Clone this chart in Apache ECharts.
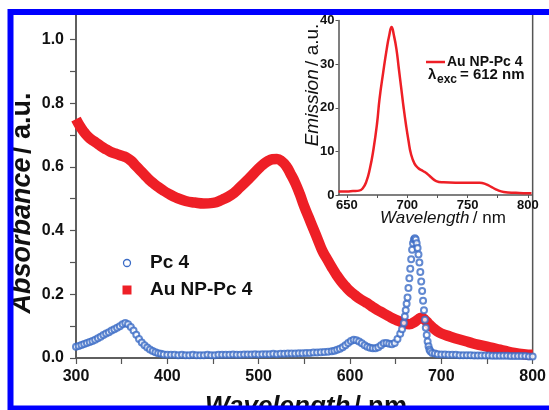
<!DOCTYPE html>
<html>
<head>
<meta charset="utf-8">
<script src="https://cdn.jsdelivr.net/npm/echarts@6/dist/echarts.min.js"></script>
<style>
html,body{margin:0;padding:0;background:#fff;}
#chart{width:549px;height:410px;}
</style>
</head>
<body>
<div id="chart"></div>
<script>
// ---- Data ----
const pc4Wavelength = [
  300,303,306,309,312,315,318,321,324,327,330,333,336,339,342,345,348,351,354,357,360,363,366,369,372,375,378,381,384,387,390,393,396,400,
  404,408,412,416,420,424,428,432,436,440,444,448,452,456,460,464,468,472,476,480,484,488,492,496,500,504,508,512,516,520,524,528,532,536,540,544,548,552,556,560,564,568,572,576,580,
  583,586,589,592,595,598,601,604,607,610,613,616,619,622,625,628,631,634,637,640,643,646,649,652,655,657,659,
  660,661,662,663,664,665,666,667,668,669,670,671,672,673,674,675,676,677,678,679,680,681,682,683,684,685,686,687,688,
  690,693,696,700,704,708,712,716,720,724,728,732,736,740,744,748,752,756,760,764,768,772,776,780,784,788,792,796,800
];
const pc4Absorbance = [
  0.035,0.038,0.041,0.044,0.047,0.05,0.053,0.057,0.062,0.067,0.072,0.077,0.081,0.086,0.09,0.095,0.1,0.106,0.11,0.106,0.097,0.086,0.073,0.06,0.049,0.04,0.033,0.027,0.022,0.018,0.015,0.013,0.011,0.01,
  0.01,0.01,0.009,0.01,0.009,0.009,0.01,0.009,0.009,0.009,0.01,0.009,0.009,0.01,0.01,0.01,0.01,0.011,0.01,0.01,0.011,0.011,0.011,0.012,0.011,0.012,0.012,0.012,0.013,0.012,0.013,0.013,0.014,0.014,0.014,0.015,0.015,0.016,0.016,0.017,0.017,0.018,0.019,0.02,0.021,
  0.023,0.026,0.029,0.034,0.04,0.047,0.053,0.057,0.056,0.052,0.046,0.04,0.035,0.032,0.031,0.031,0.034,0.04,0.046,0.047,0.045,0.043,0.047,0.06,0.076,0.09,0.11,
  0.13,0.15,0.17,0.19,0.22,0.25,0.28,0.31,0.34,0.36,0.372,0.376,0.372,0.36,0.345,0.325,0.3,0.27,0.24,0.21,0.18,0.15,0.12,0.095,0.072,0.052,0.037,0.027,0.021,
  0.016,0.014,0.012,0.011,0.011,0.01,0.01,0.01,0.009,0.009,0.009,0.009,0.008,0.008,0.008,0.008,0.008,0.007,0.007,0.007,0.007,0.007,0.006,0.006,0.006,0.006,0.006,0.005,0.005
];

const auWavelength = [300,305,310,315,320,325,330,335,340,345,350,355,360,365,370,375,380,385,390,395,400,410,420,430,440,450,460,470,480,490,500,505,510,515,520,525,530,535,540,545,550,555,560,565,570,575,580,585,590,595,600,605,610,617,620,625,630,635,640,645,650,655,660,665,670,675,678,682,686,690,695,700,710,720,730,740,750,760,770,780,790,800];
const auAbsorbance = [0.75,0.725,0.705,0.69,0.68,0.67,0.66,0.652,0.645,0.64,0.635,0.63,0.62,0.605,0.59,0.575,0.56,0.548,0.537,0.527,0.518,0.503,0.493,0.488,0.485,0.487,0.497,0.512,0.537,0.565,0.595,0.608,0.618,0.624,0.625,0.618,0.603,0.578,0.55,0.515,0.475,0.44,0.405,0.37,0.335,0.31,0.285,0.262,0.242,0.225,0.21,0.198,0.187,0.175,0.17,0.16,0.151,0.143,0.135,0.127,0.12,0.114,0.108,0.106,0.112,0.122,0.126,0.12,0.108,0.097,0.085,0.077,0.067,0.058,0.05,0.042,0.036,0.029,0.022,0.016,0.012,0.01];

const emWavelength = [643,650,655,660,663,666,669,672,675,677,680,683,685,687,689,691,693,695,697,699,701,703,706,709,713,716,720,724,730,740,750,760,765,770,775,780,790,800,803];
const emIntensity = [0.8,0.8,0.9,1.0,1.5,3,6,10.5,16.5,22,28,33.5,36.5,38.5,36.5,33.5,29,24.5,20,16,12.5,9.5,7.2,6.2,5.5,5,4,3.2,2.9,2.8,2.8,2.8,2.5,1.8,1.1,0.7,0.5,0.4,0.4];

const absTickLabels = [0,0.2,0.4,0.6,0.8,1.0];
const absMinorTicks = [0,0.1,0.2,0.3,0.4,0.5,0.6,0.7,0.8,0.9,1.0];
const wlTickLabels = [300,400,500,600,700,800];
const wlMinorTicks = [300,350,400,450,500,550,600,650,700,750,800];
const emTickLabels = [0,10,20,30,40];
const emWlTickLabels = [650,700,750,800];
const emWlTicks = [650,675,700,725,750,775,800];

const pair = (xs, ys) => xs.map((x, i) => [x, ys[i]]);

const RED = '#ee1f26';
const BLUE = '#3b6cc6';
const AX = '#555555';
const FONT = 'Liberation Sans, Arial, sans-serif';

const chart = echarts.init(document.getElementById('chart'), null, {renderer: 'canvas'});

const option = {
  backgroundColor: '#ffffff',
  animation: false,
  grid: [
    {left: 76, right: 9, top: 14, bottom: 52, show: true, borderColor: AX, borderWidth: 1.5, backgroundColor: 'transparent'},
    {left: 338.5, right: 17.5, top: 20.5, bottom: 215}
  ],
  xAxis: [
    {
      gridIndex: 0, type: 'value', min: 300, max: 800,
      axisLine: {show: true, lineStyle: {color: AX, width: 1.5}},
      axisTick: {show: true, customValues: wlMinorTicks, length: 6, lineStyle: {color: AX, width: 1.2}},
      axisLabel: {customValues: wlTickLabels, margin: 11, color: '#111', fontSize: 16, fontWeight: 'bold', fontFamily: FONT},
      splitLine: {show: false}
    },
    {
      gridIndex: 1, type: 'value', min: 643, max: 803,
      axisLine: {show: true, lineStyle: {color: AX, width: 1.5}},
      axisTick: {show: true, customValues: emWlTicks, length: 3, lineStyle: {color: AX, width: 1}},
      axisLabel: {customValues: emWlTickLabels, margin: 4, color: '#111', fontSize: 13, fontWeight: 'bold', fontFamily: FONT},
      splitLine: {show: false}
    }
  ],
  yAxis: [
    {
      gridIndex: 0, type: 'value', min: 0, max: 1.08,
      axisLine: {show: true, lineStyle: {color: AX, width: 1.5}},
      axisTick: {show: true, customValues: absMinorTicks, length: 6, lineStyle: {color: AX, width: 1.2}},
      axisLabel: {customValues: absTickLabels, margin: 12, color: '#111', fontSize: 16, fontWeight: 'bold', fontFamily: FONT,
        formatter: v => Number(v).toFixed(1)},
      splitLine: {show: false}
    },
    {
      gridIndex: 1, type: 'value', min: 0, max: 40,
      axisLine: {show: true, lineStyle: {color: AX, width: 1.5}},
      axisTick: {show: true, customValues: emTickLabels, length: 3, lineStyle: {color: AX, width: 1}},
      axisLabel: {customValues: emTickLabels, margin: 4, color: '#111', fontSize: 13, fontWeight: 'bold', fontFamily: FONT},
      splitLine: {show: false}
    }
  ],
  series: [
    {
      name: 'Au NP-Pc 4', type: 'line', xAxisIndex: 0, yAxisIndex: 0,
      data: pair(auWavelength, auAbsorbance), smooth: true, symbol: 'none',
      lineStyle: {color: RED, width: 10.5}, z: 2
    },
    {
      name: 'Pc 4', type: 'scatter', xAxisIndex: 0, yAxisIndex: 0,
      data: pair(pc4Wavelength, pc4Absorbance), symbol: 'emptyCircle', symbolSize: 6,
      itemStyle: {color: BLUE, borderColor: BLUE, borderWidth: 1.2}, z: 3
    },
    {
      name: 'Emission', type: 'line', xAxisIndex: 1, yAxisIndex: 1,
      data: pair(emWavelength, emIntensity), smooth: true, symbol: 'none',
      lineStyle: {color: RED, width: 2.5}, z: 3
    }
  ],
  graphic: [
    // main legend
    {type: 'circle', shape: {cx: 127, cy: 263, r: 3.5}, style: {fill: 'none', stroke: BLUE, lineWidth: 1.3}},
    {type: 'text', x: 150, y: 263, style: {text: 'Pc 4', font: 'bold 19px ' + FONT, fill: '#111', textVerticalAlign: 'middle'}},
    {type: 'rect', shape: {x: 122.5, y: 285.5, width: 9, height: 9}, style: {fill: RED}},
    {type: 'text', x: 150, y: 290, style: {text: 'Au NP-Pc 4', font: 'bold 19px ' + FONT, fill: '#111', textVerticalAlign: 'middle'}},
    // inset legend
    {type: 'line', shape: {x1: 426, y1: 62, x2: 445, y2: 62}, style: {stroke: RED, lineWidth: 2.5}},
    {type: 'text', x: 447, y: 62, style: {text: 'Au NP-Pc 4', font: 'bold 14px ' + FONT, fill: '#111', textVerticalAlign: 'middle'}},
    {type: 'text', x: 428, y: 75, style: {text: 'λ', font: 'bold 15px ' + FONT, fill: '#111', textVerticalAlign: 'middle'}},
    {type: 'text', x: 437, y: 80, style: {text: 'exc', font: 'bold 12px ' + FONT, fill: '#111', textVerticalAlign: 'middle'}},
    {type: 'text', x: 460, y: 75, style: {text: '= 612 nm', font: 'bold 15px ' + FONT, fill: '#111', textVerticalAlign: 'middle'}},
    // main axis titles
    {type: 'text', x: 23, y: 203, rotation: Math.PI / 2,
      style: {text: '{i|Absorbance} {n|/ a.u.}', textAlign: 'center', textVerticalAlign: 'middle', fill: '#111',
        rich: {i: {font: 'italic bold 27px ' + FONT, fill: '#111'}, n: {font: 'bold 27px ' + FONT, fill: '#111'}}}},
    {type: 'text', x: 306, y: 407,
      style: {text: '{i|Wavelength} {n|/ nm}', textAlign: 'center', textVerticalAlign: 'middle', fill: '#111',
        rich: {i: {font: 'italic bold 26px ' + FONT, fill: '#111'}, n: {font: 'bold 26px ' + FONT, fill: '#111'}}}},
    // inset axis titles
    {type: 'text', x: 313, y: 85, rotation: Math.PI / 2,
      style: {text: '{i|Emission} {n|/ a.u.}', textAlign: 'center', textVerticalAlign: 'middle', fill: '#111',
        rich: {i: {font: 'italic 19px ' + FONT, fill: '#111'}, n: {font: '19px ' + FONT, fill: '#111'}}}},
    {type: 'text', x: 443, y: 218,
      style: {text: '{i|Wavelength} {n|/ nm}', textAlign: 'center', textVerticalAlign: 'middle', fill: '#111',
        rich: {i: {font: 'italic 17px ' + FONT, fill: '#111'}, n: {font: '17px ' + FONT, fill: '#111'}}}},
    // blue frame
    {type: 'rect', z: 100, shape: {x: 10.5, y: 12, width: 600, height: 396.5}, style: {fill: 'none', stroke: '#0000ff', lineWidth: 6}}
  ]
};
chart.setOption(option);
</script>
</body>
</html>
